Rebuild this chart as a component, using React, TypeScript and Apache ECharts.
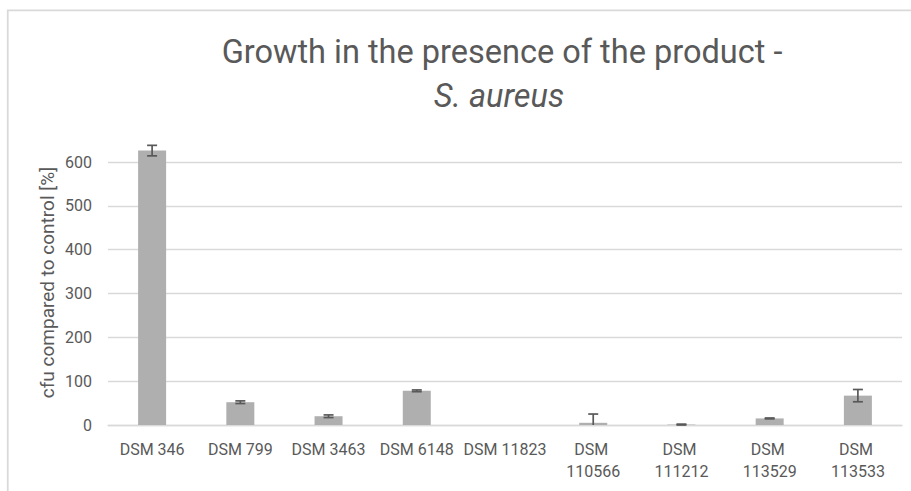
import React, { useEffect, useRef } from "react";
import * as echarts from "echarts";

const titleLine1 = "Growth in the presence of the product -";
const titleLine2 = "S. aureus";
const yAxisTitle = "cfu compared to control [%]";
const categories = [
  "DSM 346",
  "DSM 799",
  "DSM 3463",
  "DSM 6148",
  "DSM 11823",
  "DSM 110566",
  "DSM 111212",
  "DSM 113529",
  "DSM 113533",
];
const values = [626, 52, 20, 78, 0, 5, 1, 15, 67];
const errors = [12, 3, 3, 2, 0, 20, 1, 1, 14];
const yMin = 0;
const yMax = 600;
const yStep = 100;

const FONT = "Roboto, 'Liberation Sans', Arial, sans-serif";
const TEXT = "#595959";
const GRID = "#d9d9d9";

export default function App() {
  const ref = useRef<HTMLDivElement>(null);
  useEffect(() => {
    if (!ref.current) return;
    const chart = echarts.init(ref.current, undefined, { renderer: "svg" });
    const errData = categories.map((_, i) => [i, values[i], errors[i]]);
    chart.setOption({
      animation: false,
      backgroundColor: "#ffffff",
      title: [
        {
          text: titleLine1,
          left: 502,
          top: 35,
          padding: 0,
          textAlign: "center",
          textStyle: { fontFamily: FONT, fontSize: 32.5, fontWeight: "normal", color: TEXT },
        },
        {
          text: titleLine2,
          left: 499,
          top: 79,
          padding: 0,
          textAlign: "center",
          textStyle: { fontFamily: FONT, fontSize: 32.5, fontWeight: "normal", fontStyle: "italic", color: TEXT },
        },
      ],
      graphic: [
        {
          type: "rect",
          shape: { x: 7.75, y: 10.25, width: 1200, height: 1000 },
          style: { fill: "none", stroke: GRID, lineWidth: 1.75 },
          silent: true,
        },
        {
          type: "text",
          x: 47,
          y: 282.5,
          rotation: Math.PI / 2,
          style: {
            text: yAxisTitle,
            fontFamily: FONT,
            fontSize: 19,
            fill: TEXT,
            align: "center",
            verticalAlign: "middle",
          },
        },
      ],
      grid: { left: 108, right: 9, top: 162, bottom: 66, containLabel: false },
      xAxis: {
        type: "category",
        data: categories,
        axisLine: { show: true, lineStyle: { color: GRID, width: 1.3 } },
        axisTick: { show: false },
        axisLabel: {
          interval: 0,
          hideOverlap: false,
          margin: 13,
          width: 86,
          overflow: "break",
          lineHeight: 22,
          fontFamily: FONT,
          fontSize: 16,
          color: TEXT,
        },
      },
      yAxis: {
        type: "value",
        min: yMin,
        max: yMax,
        interval: yStep,
        axisLine: { show: false },
        axisTick: { show: false },
        splitLine: { lineStyle: { color: GRID, width: 1.3 } },
        axisLabel: { margin: 16, fontFamily: FONT, fontSize: 16, color: TEXT },
      },
      series: [
        {
          type: "bar",
          data: values,
          barWidth: 28,
          clip: false,
          itemStyle: { color: "#afafaf" },
          z: 2,
        },
        {
          type: "custom",
          data: errData,
          clip: false,
          z: 3,
          renderItem: (params: any, api: any) => {
            const i = api.value(0);
            const v = api.value(1);
            const e = api.value(2);
            if (!e) return null;
            const hi = api.coord([i, v + e]);
            const lowVal = v - e;
            const lo = api.coord([i, Math.max(yMin, lowVal)]);
            const half = 5;
            const style = { stroke: "#595959", lineWidth: 1.7 };
            const children: any[] = [
              { type: "line", shape: { x1: hi[0], y1: hi[1], x2: lo[0], y2: lo[1] }, style },
              { type: "line", shape: { x1: hi[0] - half, y1: hi[1], x2: hi[0] + half, y2: hi[1] }, style },
            ];
            if (lowVal >= yMin) {
              children.push({ type: "line", shape: { x1: lo[0] - half, y1: lo[1], x2: lo[0] + half, y2: lo[1] }, style });
            }
            return { type: "group", children };
          },
        },
      ],
    });
    return () => chart.dispose();
  }, []);
  return (
    <div
      ref={ref}
      style={{ position: "fixed", left: 0, top: 0, width: 911, height: 491, background: "#fff" }}
    />
  );
}
